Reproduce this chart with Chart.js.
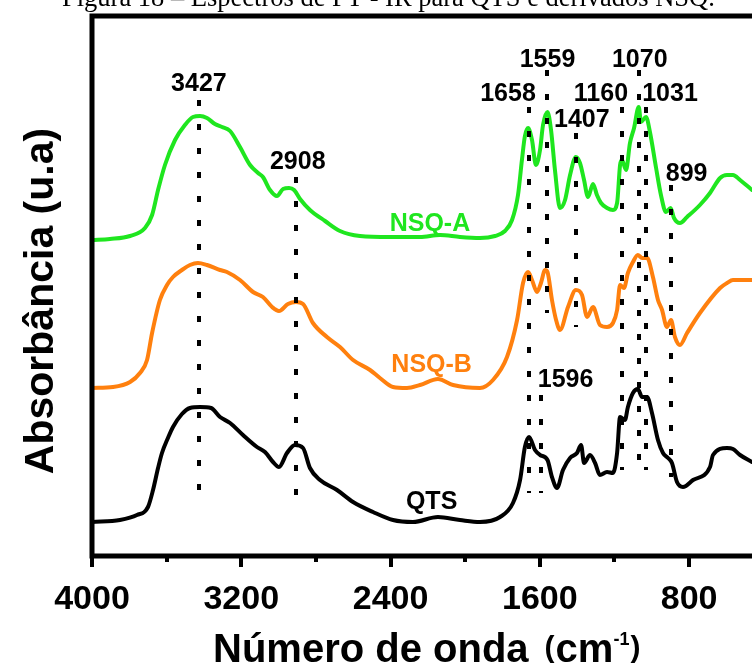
<!DOCTYPE html>
<html>
<head>
<meta charset="utf-8">
<title>FT-IR QTS e NSQ</title>
<script src="https://cdn.jsdelivr.net/npm/chart.js@4.4.1/dist/chart.umd.min.js"></script>
<style>
  html, body { margin: 0; padding: 0; background: #fff; }
  #wrap { width: 752px; height: 666px; }
</style>
</head>
<body>
<div id="wrap"><canvas id="ftir" width="752" height="666"></canvas></div>
<script>
// espectros (numero de onda em cm-1, absorbancia deslocada em u.a.)
const nsqAWave = [4000, 3904, 3796, 3716, 3678, 3646, 3609, 3555, 3502, 3459, 3421, 3384, 3341, 3303, 3260, 3207, 3153, 3110, 3084, 3046, 3009, 2976, 2944, 2917, 2885, 2832, 2751, 2671, 2564, 2403, 2242, 2135, 2028, 1921, 1840, 1787, 1749, 1717, 1696, 1680, 1663, 1642, 1621, 1599, 1583, 1559, 1540, 1519, 1492, 1465, 1438, 1407, 1385, 1363, 1342, 1315, 1294, 1272, 1240, 1208, 1186, 1170, 1160, 1138, 1117, 1095, 1070, 1058, 1031, 1010, 977, 951, 924, 899, 881, 849, 811, 742, 688, 634, 597, 565, 527, 463];
const nsqAAbs = [3.16, 3.17, 3.20, 3.28, 3.41, 3.66, 3.91, 4.16, 4.31, 4.39, 4.40, 4.38, 4.32, 4.29, 4.25, 4.09, 3.91, 3.83, 3.79, 3.66, 3.60, 3.67, 3.68, 3.66, 3.57, 3.46, 3.35, 3.25, 3.20, 3.19, 3.19, 3.21, 3.19, 3.18, 3.20, 3.25, 3.36, 3.61, 3.96, 4.20, 4.28, 4.16, 3.91, 4.06, 4.31, 4.44, 4.26, 3.86, 3.48, 3.56, 3.81, 3.99, 3.93, 3.76, 3.59, 3.72, 3.61, 3.53, 3.48, 3.46, 3.53, 3.91, 3.96, 3.86, 4.13, 4.28, 4.49, 4.34, 4.39, 4.24, 3.88, 3.61, 3.44, 3.48, 3.38, 3.33, 3.39, 3.51, 3.63, 3.78, 3.81, 3.81, 3.76, 3.66];

const nsqBWave = [4000, 3887, 3796, 3743, 3705, 3678, 3636, 3598, 3566, 3518, 3475, 3432, 3384, 3314, 3277, 3207, 3137, 3084, 3035, 2998, 2950, 2907, 2869, 2816, 2741, 2671, 2601, 2510, 2457, 2387, 2312, 2242, 2146, 2065, 1921, 1851, 1776, 1722, 1690, 1663, 1642, 1615, 1594, 1572, 1559, 1535, 1513, 1492, 1449, 1407, 1374, 1347, 1315, 1278, 1240, 1208, 1186, 1170, 1149, 1128, 1101, 1075, 1052, 1025, 994, 967, 945, 919, 897, 876, 849, 811, 742, 634, 597, 565, 501, 463];
const nsqBAbs = [1.68, 1.69, 1.74, 1.83, 1.96, 2.23, 2.56, 2.71, 2.79, 2.86, 2.91, 2.93, 2.91, 2.86, 2.84, 2.76, 2.64, 2.59, 2.49, 2.45, 2.52, 2.54, 2.52, 2.33, 2.19, 2.09, 1.96, 1.86, 1.78, 1.69, 1.68, 1.71, 1.77, 1.71, 1.68, 1.76, 1.99, 2.36, 2.73, 2.84, 2.76, 2.64, 2.73, 2.86, 2.84, 2.56, 2.36, 2.26, 2.49, 2.66, 2.61, 2.39, 2.49, 2.31, 2.29, 2.33, 2.46, 2.71, 2.68, 2.83, 2.94, 3.01, 2.98, 2.98, 2.79, 2.56, 2.46, 2.29, 2.36, 2.19, 2.11, 2.23, 2.43, 2.68, 2.73, 2.76, 2.76, 2.76];

const qtsWave = [4000, 3850, 3759, 3700, 3673, 3646, 3625, 3593, 3566, 3518, 3475, 3421, 3362, 3314, 3260, 3191, 3116, 3073, 3030, 2998, 2955, 2912, 2869, 2832, 2778, 2687, 2601, 2494, 2387, 2280, 2146, 2028, 1921, 1813, 1744, 1706, 1680, 1658, 1626, 1599, 1559, 1535, 1508, 1476, 1438, 1401, 1379, 1363, 1331, 1304, 1278, 1240, 1208, 1186, 1170, 1144, 1128, 1101, 1075, 1052, 1025, 999, 967, 940, 913, 892, 865, 833, 779, 688, 672, 597, 565, 527, 463];
const qtsAbs = [0.34, 0.36, 0.41, 0.49, 0.66, 0.88, 1.03, 1.18, 1.29, 1.42, 1.48, 1.49, 1.48, 1.39, 1.33, 1.21, 1.09, 1.04, 0.94, 0.89, 1.03, 1.11, 1.08, 0.88, 0.76, 0.66, 0.54, 0.44, 0.36, 0.34, 0.39, 0.36, 0.34, 0.39, 0.53, 0.76, 1.09, 1.19, 1.06, 1.01, 0.96, 0.79, 0.68, 0.86, 0.98, 1.03, 1.11, 0.93, 1.01, 0.93, 0.81, 0.84, 0.83, 1.03, 1.39, 1.36, 1.49, 1.63, 1.67, 1.59, 1.59, 1.43, 1.16, 1.03, 0.98, 0.93, 0.74, 0.69, 0.76, 0.89, 1.01, 1.08, 1.07, 1.01, 0.94];

const seriesNames = ['NSQ-A', 'NSQ-B', 'QTS'];
const seriesColors = ['#1fe61f', '#ff800e', '#000000'];
// posicao dos nomes das curvas (cm-1, u.a.)
const nameWave = [2189, 2180, 2180];
const nameAbs = [3.34, 1.93, 0.56];

// bandas marcadas com linhas pontilhadas
const peakWave = [3427, 2908, 1658, 1559, 1596, 1407, 1160, 1070, 1031, 899];
const guideTop = [4.56, 3.79, 4.49, 4.86, 1.61, 4.23, 4.49, 4.86, 4.49, 3.71];
const guideBottom = [0.66, 0.61, 0.63, 2.43, 0.63, 2.29, 0.86, 0.79, 0.86, 0.79];
const peakLabelAbs = [4.735, 3.96, 4.635, 4.977, 1.777, 4.377, 4.635, 4.977, 4.635, 3.843];
const peakLabelShift = [0, 2, -21, 0, 25, 6, -21, 1, 24, 16]; // px

const tickWave = [4000, 3200, 2400, 1600, 800];
const minorWave = [3600, 2800, 2000, 1200];

const SANS = '"Liberation Sans", Arial, sans-serif';

function pairs(xs, ys) {
    return xs.map((v, i) => ({ x: v, y: ys[i] }));
}

const annotations = {
    id: 'annotations',
    afterDatasetsDraw(chart) {
        const { ctx, scales: { x, y } } = chart;
        ctx.save();

        // linhas pontilhadas
        ctx.strokeStyle = '#000';
        ctx.lineWidth = 4;
        ctx.setLineDash([6, 18]);
        peakWave.forEach((wn, i) => {
            const px = Math.round(x.getPixelForValue(wn));
            ctx.beginPath();
            ctx.moveTo(px, y.getPixelForValue(guideTop[i]));
            ctx.lineTo(px, y.getPixelForValue(guideBottom[i]));
            ctx.stroke();
        });
        ctx.setLineDash([]);

        // numeros das bandas
        ctx.fillStyle = '#000';
        ctx.font = 'bold 25px ' + SANS;
        ctx.textAlign = 'center';
        ctx.textBaseline = 'alphabetic';
        peakWave.forEach((wn, i) => {
            const px = x.getPixelForValue(wn) + peakLabelShift[i];
            const py = y.getPixelForValue(peakLabelAbs[i]) + 0.358 * 25;
            ctx.fillText(String(wn), px, py);
        });

        // nomes das amostras
        ctx.font = 'bold 25px ' + SANS;
        seriesNames.forEach((name, i) => {
            ctx.fillStyle = seriesColors[i];
            ctx.fillText(name, x.getPixelForValue(nameWave[i]), y.getPixelForValue(nameAbs[i]) + 0.358 * 25);
        });
        ctx.restore();
    },
    afterDraw(chart) {
        const { ctx, chartArea: a, scales: { x } } = chart;
        ctx.save();

        // moldura
        ctx.strokeStyle = '#000';
        ctx.lineWidth = 5;
        ctx.beginPath();
        ctx.moveTo(a.right + 10, a.top);
        ctx.lineTo(a.left, a.top);
        ctx.lineTo(a.left, a.bottom);
        ctx.lineTo(a.right + 10, a.bottom);
        ctx.stroke();

        // marcas do eixo x
        ctx.lineWidth = 4;
        tickWave.forEach(v => {
            const px = Math.round(x.getPixelForValue(v));
            ctx.beginPath();
            ctx.moveTo(px, a.bottom);
            ctx.lineTo(px, a.bottom + 11);
            ctx.stroke();
        });
        minorWave.forEach(v => {
            const px = Math.round(x.getPixelForValue(v));
            ctx.beginPath();
            ctx.moveTo(px, a.bottom);
            ctx.lineTo(px, a.bottom + 6);
            ctx.stroke();
        });

        ctx.fillStyle = '#000';
        ctx.textBaseline = 'alphabetic';

        // titulo do eixo x
        ctx.textAlign = 'left';
        let tx = 213;
        const base = 662;
        ctx.font = 'bold 40px ' + SANS;
        ctx.fillText('Número de onda', tx, base);
        tx += ctx.measureText('Número de onda').width + 16;
        ctx.font = 'bold 30px ' + SANS;
        ctx.fillText('(', tx, base - 5);
        tx += ctx.measureText('(').width + 1;
        ctx.font = 'bold 40px ' + SANS;
        ctx.fillText('cm', tx, base);
        tx += ctx.measureText('cm').width;
        ctx.font = 'bold 18px ' + SANS;
        ctx.fillText('-1', tx, base - 17);
        tx += ctx.measureText('-1').width + 1;
        ctx.font = 'bold 30px ' + SANS;
        ctx.fillText(')', tx, base - 5);

        // titulo do eixo y
        ctx.save();
        ctx.translate(53, 301);
        ctx.rotate(-Math.PI / 2);
        ctx.textAlign = 'center';
        ctx.font = 'bold 41px ' + SANS;
        ctx.fillText('Absorbância (u.a)', 0, 0);
        ctx.restore();

        // legenda da figura
        const caption = 'Figura 18 – Espectros de FT - IR para QTS e derivados NSQ.';
        ctx.font = '26px "Liberation Serif", "Times New Roman", serif';
        const size = 26 * 653 / ctx.measureText(caption).width;
        ctx.font = size.toFixed(1) + 'px "Liberation Serif", "Times New Roman", serif';
        ctx.textAlign = 'left';
        ctx.fillText(caption, 62, 6);

        ctx.restore();
    }
};

const ctx = document.getElementById('ftir').getContext('2d');

const ftirChart = new Chart(ctx, {
    type: 'line',
    data: {
        datasets: [
            { label: seriesNames[0], data: pairs(nsqAWave, nsqAAbs), borderColor: seriesColors[0] },
            { label: seriesNames[1], data: pairs(nsqBWave, nsqBAbs), borderColor: seriesColors[1] },
            { label: seriesNames[2], data: pairs(qtsWave, qtsAbs), borderColor: seriesColors[2] }
        ]
    },
    options: {
        responsive: false,
        animation: false,
        devicePixelRatio: 1,
        layout: { padding: { top: 16, left: 0, right: 0, bottom: 0 } },
        plugins: {
            legend: { display: false },
            tooltip: { enabled: false }
        },
        elements: {
            point: { radius: 0 },
            line: { borderWidth: 4, fill: false, cubicInterpolationMode: 'monotone', borderJoinStyle: 'round', borderCapStyle: 'round' }
        },
        scales: {
            x: {
                type: 'linear',
                reverse: true,
                min: 463,
                max: 4000,
                grid: { display: false },
                border: { display: false },
                afterBuildTicks: s => { s.ticks = tickWave.map(v => ({ value: v })); },
                afterFit: s => { s.height = 110; },
                ticks: {
                    color: '#000',
                    font: { family: SANS, size: 34, weight: 'bold' },
                    padding: 15,
                    maxRotation: 0,
                    autoSkip: false,
                    callback: v => String(v)
                }
            },
            y: {
                min: 0,
                max: 5.4,
                grid: { display: false },
                border: { display: false },
                ticks: { display: false },
                afterFit: s => { s.width = 92; }
            }
        }
    },
    plugins: [annotations]
});
</script>
</body>
</html>
